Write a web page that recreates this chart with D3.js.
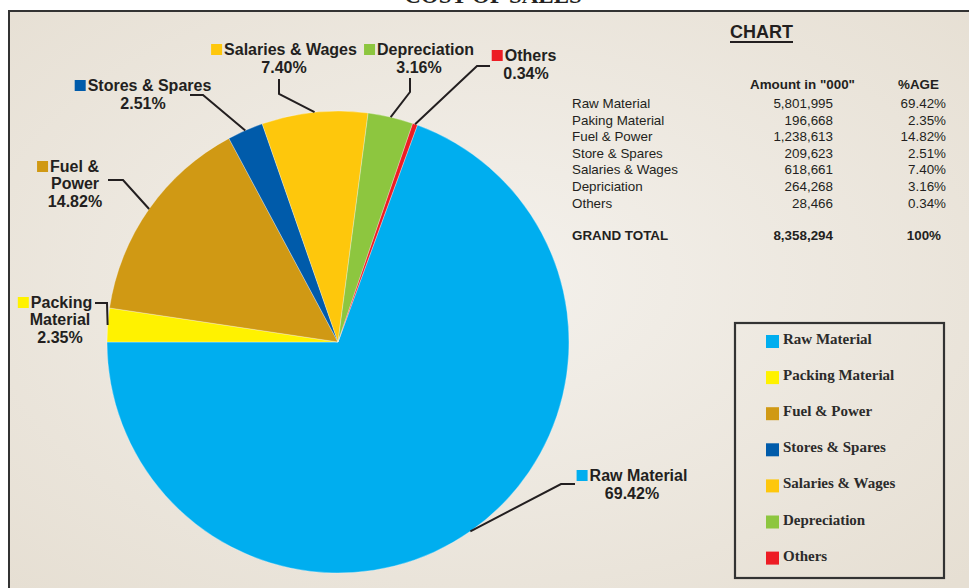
<!DOCTYPE html>
<html>
<head>
<meta charset="utf-8">
<script src="https://cdn.jsdelivr.net/npm/d3@7"></script>
<style>
  body { margin: 0; background: #ffffff; }
  svg { display: block; }
</style>
</head>
<body>
<div id="chart"></div>
<script>
// Chart data
const categories = ["Raw Material", "Packing Material", "Fuel & Power", "Stores & Spares", "Salaries & Wages", "Depreciation", "Others"];
const tableNames = ["Raw Material", "Paking Material", "Fuel & Power", "Store & Spares", "Salaries & Wages", "Depriciation", "Others"];
const amounts = [5801995, 196668, 1238613, 209623, 618661, 264268, 28466];
const percents = [69.42, 2.35, 14.82, 2.51, 7.40, 3.16, 0.34];
const colors = ["#00aeef", "#fff200", "#d09914", "#005baa", "#fec70c", "#8dc63f", "#ed1c24"];

// Where each data label sits and how its leader line bends
// (fx = centre of the first line with its key square, cx = centre of the rest)
const labelLayout = [
    { fx: 632, cx: 632, y: 481, lines: ["Raw Material"], knee: [561, 484], end: [575, 484] },
    { fx: 55, cx: 60, y: 308, lines: ["Packing", "Material"], knee: [107, 303], end: [95, 303] },
    { fx: 68, cx: 75, y: 172, lines: ["Fuel &", "Power"], knee: [123, 180], end: [108, 180] },
    { fx: 143, cx: 143, y: 91, lines: ["Stores & Spares"], knee: [203, 95], end: [190, 95] },
    { fx: 284, cx: 284, y: 55, lines: ["Salaries & Wages"], knee: [279, 94], end: [279, 79] },
    { fx: 419, cx: 419, y: 55, lines: ["Depreciation"], knee: [410, 92], end: [410, 78] },
    { fx: 524, cx: 526, y: 61, lines: ["Others"], knee: [477, 66], end: [490, 66] }
];

const width = 969, height = 588;
const textColor = "#231f20";
const sans = "'Liberation Sans', Arial, sans-serif";
const serif = "'Liberation Serif', 'Times New Roman', serif";

const svg = d3.select("#chart").append("svg")
    .attr("width", width)
    .attr("height", height);

// Background gradient inside the frame
const defs = svg.append("defs");
const grad = defs.append("radialGradient")
    .attr("id", "bg")
    .attr("cx", "48%").attr("cy", "45%").attr("r", "70%");
grad.append("stop").attr("offset", "0%").attr("stop-color", "#f4f1ec");
grad.append("stop").attr("offset", "100%").attr("stop-color", "#e6dfd3");

// Title, mostly above the visible area as in the original
svg.append("text")
    .attr("x", 493).attr("y", 3)
    .attr("text-anchor", "middle")
    .style("font-family", serif)
    .style("font-weight", "bold")
    .style("font-size", "23px")
    .style("fill", textColor)
    .text("COST OF SALES");

svg.append("rect")
    .attr("x", 9).attr("y", 11)
    .attr("width", 980).attr("height", 600)
    .attr("fill", "url(#bg)")
    .attr("stroke", "#333")
    .attr("stroke-width", 2);

// Pie
const cx = 338, cy = 342, radius = 231;
const total = d3.sum(amounts);
// Raw Material ends at 9 o'clock, slices run clockwise
const a0 = 1.5 * Math.PI - 2 * Math.PI * amounts[0] / total;

const pie = d3.pie().sort(null).value(d => d)
    .startAngle(a0).endAngle(a0 + 2 * Math.PI);
const arcs = pie(amounts);
const arc = d3.arc().innerRadius(0).outerRadius(radius);
const edgeArc = d3.arc().innerRadius(radius).outerRadius(radius);

const pieG = svg.append("g").attr("transform", `translate(${cx},${cy})`);
pieG.selectAll("path")
    .data(arcs)
    .enter().append("path")
    .attr("d", arc)
    .attr("fill", (d, i) => colors[i])
    .attr("stroke", "#ffffff")
    .attr("stroke-opacity", 0.5)
    .attr("stroke-width", 0.6);

// Leader lines
const line = d3.line();
svg.append("g").selectAll("path")
    .data(arcs)
    .enter().append("path")
    .attr("d", (d, i) => {
        const p = edgeArc.centroid(d);
        const L = labelLayout[i];
        return line([[p[0] + cx, p[1] + cy], L.knee, L.end]);
    })
    .attr("fill", "none")
    .attr("stroke", "#231f20")
    .attr("stroke-width", 2);

// Data labels
const lineH = 17;
labelLayout.forEach((L, i) => {
    const g = svg.append("g")
        .style("font-family", sans)
        .style("font-weight", "bold")
        .style("font-size", "16px")
        .style("fill", textColor);
    const first = g.append("text")
        .attr("y", L.y)
        .text(L.lines[0]);
    const w = first.node().getComputedTextLength();
    const x0 = L.fx - (w + 13) / 2;
    first.attr("x", x0 + 13);
    g.append("rect")
        .attr("x", x0).attr("y", L.y - 11)
        .attr("width", 11).attr("height", 11)
        .attr("fill", colors[i]);
    L.lines.slice(1).forEach((t, k) => {
        g.append("text")
            .attr("x", L.cx).attr("y", L.y + lineH * (k + 1))
            .attr("text-anchor", "middle")
            .text(t);
    });
    g.append("text")
        .attr("x", L.cx).attr("y", L.y + lineH * L.lines.length + 1)
        .attr("text-anchor", "middle")
        .text(d3.format(".2f")(percents[i]) + "%");
});

// Table
const tbl = svg.append("g")
    .style("font-family", sans)
    .style("font-size", "13.4px")
    .style("fill", textColor);

const chartTitle = svg.append("text")
    .attr("x", 730).attr("y", 38)
    .style("font-family", sans)
    .style("font-weight", "bold")
    .style("font-size", "18px")
    .style("fill", textColor)
    .text("CHART");
const tw = chartTitle.node().getComputedTextLength();
svg.append("rect")
    .attr("x", 730).attr("y", 41)
    .attr("width", tw).attr("height", 2)
    .attr("fill", textColor);

tbl.append("text").attr("x", 750).attr("y", 89)
    .style("font-weight", "bold").text('Amount in "000"');
tbl.append("text").attr("x", 898).attr("y", 89)
    .style("font-weight", "bold").text("%AGE");

const rowY = d3.scaleLinear().domain([0, 1]).range([108, 124.6]);
tableNames.forEach((name, i) => {
    tbl.append("text").attr("x", 572).attr("y", rowY(i)).text(name);
    tbl.append("text").attr("x", 833).attr("y", rowY(i))
        .attr("text-anchor", "end").text(d3.format(",")(amounts[i]));
    tbl.append("text").attr("x", 946).attr("y", rowY(i))
        .attr("text-anchor", "end").text(d3.format(".2f")(percents[i]) + "%");
});

const totY = 240;
tbl.append("text").attr("x", 572).attr("y", totY)
    .style("font-weight", "bold").text("GRAND TOTAL");
tbl.append("text").attr("x", 833).attr("y", totY)
    .attr("text-anchor", "end").style("font-weight", "bold")
    .text(d3.format(",")(total));
tbl.append("text").attr("x", 941).attr("y", totY)
    .attr("text-anchor", "end").style("font-weight", "bold")
    .text(d3.format(".0f")(d3.sum(percents)) + "%");

// Legend
svg.append("rect")
    .attr("x", 735).attr("y", 323)
    .attr("width", 209).attr("height", 255)
    .attr("fill", "none")
    .attr("stroke", "#333")
    .attr("stroke-width", 2.2);

const legY = d3.scaleLinear().domain([0, 1]).range([344, 380.1]);
const leg = svg.append("g").selectAll("g")
    .data(categories)
    .enter().append("g")
    .attr("transform", (d, i) => `translate(766,${legY(i)})`);
leg.append("rect")
    .attr("x", 0).attr("y", -9)
    .attr("width", 13).attr("height", 13)
    .attr("fill", (d, i) => colors[i]);
leg.append("text")
    .attr("x", 17).attr("y", 0)
    .style("font-family", serif)
    .style("font-weight", "bold")
    .style("font-size", "15px")
    .style("fill", "#2b2b2b")
    .text(d => d);
</script>
</body>
</html>
